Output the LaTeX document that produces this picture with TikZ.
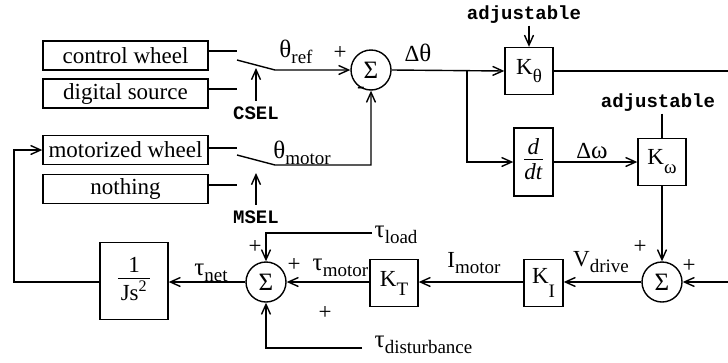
\documentclass[tikz,border=0pt]{standalone}
\usepackage{fontspec}
\setmainfont{Liberation Serif}
\setmonofont{Liberation Mono}
\usetikzlibrary{arrows.meta,calc}
\newcommand{\mainsz}{\fontsize{23}{26}\selectfont}
\newcommand{\monosz}{\fontsize{19}{20}\selectfont\ttfamily\bfseries}
\newcommand{\sbs}[1]{\raisebox{-6pt}{\fontsize{19}{20}\selectfont #1}}
\newcommand{\ksb}[2]{\raisebox{-#1}{\fontsize{19}{20}\selectfont #2}}
\newcommand{\grk}[1]{{\fontsize{25}{26}\selectfont #1}}
\begin{document}
\begin{tikzpicture}[x=1pt,y=-1pt,
  line width=1.4pt,
  >={Straight Barb[length=10pt,width=9pt]},
  every node/.style={font=\mainsz, inner sep=0pt},
  srcbox/.style={draw, minimum width=165pt, minimum height=29pt},
  sumnode/.style={draw, circle, minimum size=40pt},
  gainbox/.style={draw, minimum width=48pt, minimum height=47pt},
  mono/.style={font=\monosz, inner sep=5pt},
  monoadj/.style={font=\monosz, inner sep=1pt},
]
\useasboundingbox (0,0) rectangle (728,362);

% source boxes
\node[srcbox] (cw) at (125.5,55.5) {control wheel};
\node[srcbox] (ds) at (125.5,93.5) {digital source};
\node[srcbox] (mw) at (125.5,150) {motorized wheel};
\node[srcbox] (no) at (125.5,189) {nothing};

% switch contacts
\coordinate (c1) at (237,51);
\coordinate (c2) at (237,89);
\coordinate (c3) at (237,148);
\coordinate (c4) at (237,185);
\coordinate (sw1) at (237,60);
\coordinate (p1) at (275,70);
\coordinate (sw2) at (237,155);
\coordinate (p2) at (275,165);
\coordinate (q2) at (371,165);

\draw (cw.east |- c1) -- (c1);
\draw (ds.east |- c2) -- (c2);
\draw (mw.east |- c3) -- (c3);
\draw (no.east |- c4) -- (c4);

% first summing junction
\node[sumnode] (s1) at (371,70) {\grk{Σ}};
\draw[->] (sw1) -- (p1) -- (s1.west);
\draw[->] (sw2) -- (p2) -- (q2) -- (s1.south);

\node[mono] (csel) at (256,113) {CSEL};
\coordinate (cselt) at (256,68);
\draw[->] (csel.north) -- (cselt);
\node[mono] (msel) at (256,217) {MSEL};
\coordinate (mselt) at (256,173);
\draw[->] (msel.north) -- (mselt);

\node (thref) at (296,52) {\grk{θ}\sbs{ref}};
\node (thm) at (302,153) {\grk{θ}\sbs{motor}};
\node (pl1) at (340,53) {+};
\node (mi1) at (361,90) {-};

% K_theta branch
\node (dth) at (418,53) {Δ\grk{θ}};
\node[gainbox] (kth) at (529,71) {K\ksb{8pt}{θ}};
\node[monoadj] (adj1) at (524,15) {adjustable};
\draw[->] (adj1.south -| kth.north) -- (kth.north);
\coordinate (rt) at (728,71);
\draw (kth.east) -- (rt);
\draw[->] (s1.east) -- (kth.west);
\coordinate (br) at (467,71);

\node[draw, minimum width=39pt, minimum height=68pt] (ddt) at (533.5,162)
  {\begin{tabular}{@{}c@{}}\textit{d}\\[-3pt]\hline\rule{0pt}{20pt}\textit{dt}\end{tabular}};
\draw[->] (br) |- (ddt.west);

\node (dom) at (592,151) {Δ\grk{ω}};
\node[gainbox] (kw) at (662,162) {K\ksb{9pt}{ω}};
\draw[->] (ddt.east) -- (kw.west);
\node[monoadj] (adj2) at (658,103) {adjustable};
\draw (adj2.south -| kw.north) -- (kw.north);

% bottom row
\node[sumnode] (s2) at (662,282) {\grk{Σ}};
\draw[->] (kw.south) -- (s2.north);
\node (pl2) at (640,247) {+};
\node (pl3) at (689,266) {+};
\coordinate (rb) at (728,282);
\draw[->] (rb) -- (s2.east);

\node[gainbox, minimum width=39pt] (ki) at (543.5,283) {K\ksb{14pt}{I}};
\draw[->] (s2.west) -- (s2.west -| ki.east);
\node (vd) at (601,262) {V\sbs{drive}};

\node[gainbox] (kt) at (394,283) {K\ksb{9pt}{T}};
\draw[->] (ki.west |- s2.west) -- (kt.east |- s2.west);
\node (im) at (474,263) {I\sbs{motor}};

\node[sumnode] (s3) at (266,282) {\grk{Σ}};
\draw[->] (kt.west |- s3.east) -- (s3.east);
\node[anchor=west] (tm) at (312,268) {\grk{τ}\sbs{motor}};
\node (pl4) at (294,265) {+};

\coordinate (tl) at (372,233);
\draw[->] (tl) -| (s3.north);
\node[anchor=west] (tload) at (374,235) {\grk{τ}\sbs{load}};
\node (pl5) at (255,247) {+};

\coordinate (td) at (362,348);
\draw[->] (td) -| (s3.south);
\node[anchor=west] (tdist) at (374,345) {\grk{τ}\sbs{disturbance}};
\node (pl6) at (325,313) {+};

\node[draw, minimum width=68pt, minimum height=77pt] (js) at (134,281)
  {\begin{tabular}{@{\hspace{3pt}}c@{\hspace{3pt}}}1\\[-2pt]\hline\rule{0pt}{22pt}Js\textsuperscript{2}\end{tabular}};
\draw[->] (s3.west) -- (s3.west -| js.east);
\node (tnet) at (211,273) {\grk{τ}\sbs{net}};

\coordinate (fb) at (14,282);
\draw[->] (js.west |- s3.west) -- (fb) |- (mw.west);
\end{tikzpicture}
\end{document}
